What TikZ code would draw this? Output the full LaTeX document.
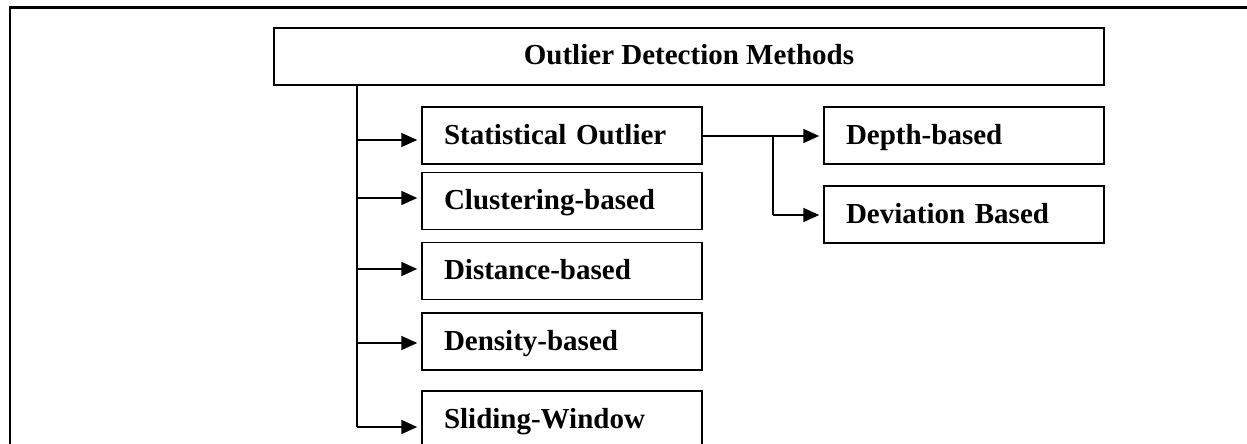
\documentclass[tikz,border=0pt]{standalone}
\usepackage{fontspec}
\setmainfont{Liberation Serif}
\usetikzlibrary{arrows.meta}
\begin{document}
\begin{tikzpicture}[x=1pt,y=-1pt,
  box/.style={draw,line width=1.5pt,rectangle,minimum height=57pt,inner ysep=0pt,
    inner xsep=22pt,text width=236pt,align=left,text height=20pt,text depth=3pt,
    font=\fontsize{29}{32}\selectfont\bfseries},
  titlebox/.style={draw,line width=1.5pt,rectangle,minimum height=57pt,minimum width=830pt,
    inner sep=0pt,text height=20pt,text depth=3pt,font=\fontsize{29}{32}\selectfont\bfseries},
  conn/.style={line width=1.7pt},
  arr/.style={line width=1.7pt,-{Triangle[length=16pt,width=14pt]},shorten >=4pt}]
\useasboundingbox (0,0) rectangle (1247,444);
\clip (0,0) rectangle (1247,444);
\fill[white] (0,0) rectangle (1247,444);
% outer frame
\coordinate (fl) at (10,460);
\coordinate (ftl) at (10,7.5);
\coordinate (fr) at (1260,7.5);
\draw[line width=2.2pt] (fl) -- (ftl) -- (fr);
% nodes
\node[titlebox] (title) at (689,56.5) {Outlier Detection Methods};
\node[box] (stat) at (562,135.5) {Statistical Outlier};
\node[box] (clus) at (562,201) {Clustering-based};
\node[box] (dist) at (562,271) {Distance-based};
\node[box] (dens) at (562,341.5) {Density-based};
\node[box] (slid) at (562,419.5) {Sliding-Window};
\node[box] (depth) at (964,135.5) {Depth-based};
\node[box] (dev) at (964,214.5) {Deviation Based};
% trunk
\coordinate (t1) at (357,140);
\coordinate (t2) at (357,198);
\coordinate (t3) at (357,269);
\coordinate (t4) at (357,343);
\coordinate (t5) at (357,427);
\draw[conn] (title.south -| t5) -- (t5);
\draw[arr] (t1) -- (stat.west |- t1);
\draw[arr] (t2) -- (clus.west |- t2);
\draw[arr] (t3) -- (dist.west |- t3);
\draw[arr] (t4) -- (dens.west |- t4);
\draw[arr] (t5) -- (slid.west |- t5);
% branch
\coordinate (b1) at (773,136);
\coordinate (b2) at (773,215);
\draw[arr] (stat.east |- b1) -- (depth.west |- b1);
\draw[conn] (b1) -- (b2);
\draw[arr] (b2) -- (dev.west |- b2);
\end{tikzpicture}
\end{document}
